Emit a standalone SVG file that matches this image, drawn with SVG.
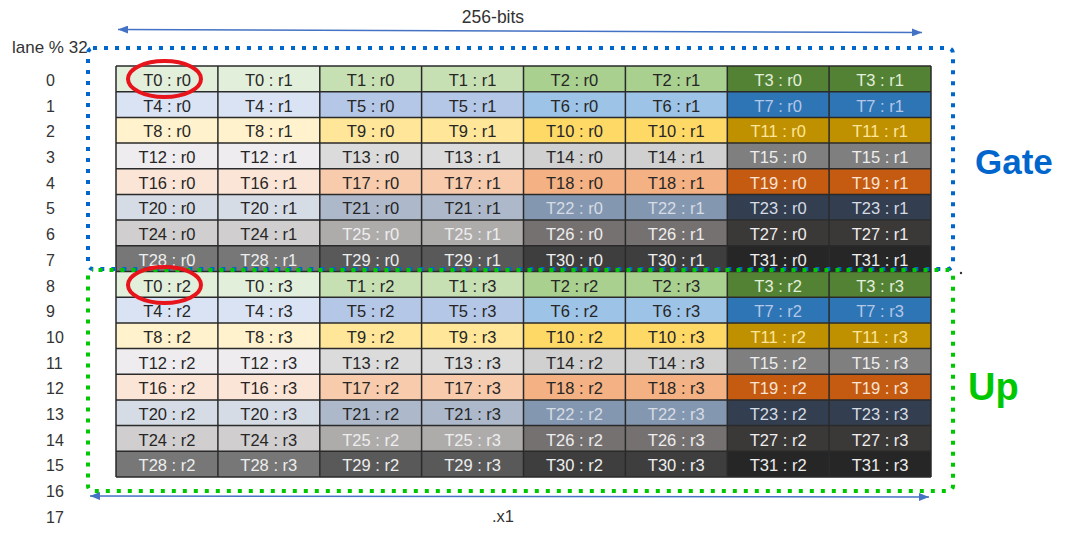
<svg xmlns="http://www.w3.org/2000/svg" width="1080" height="543" viewBox="0 0 1080 543">
<style>
.lbl{font-family:"Liberation Sans",Arial,sans-serif;font-size:16px;fill:#333}
.c{font-family:"Liberation Sans",Arial,sans-serif;font-size:16.5px;text-anchor:middle;fill:#262626}
.w{fill:#eeeeee}
.a0{fill:#e2efda}.a1{fill:#c6e0b4}.a2{fill:#a9d08e}.a3{fill:#548235}
.b0{fill:#dae3f3}.b1{fill:#b4c7e7}.b2{fill:#9dc3e6}.b3{fill:#2e75b6}
.c0{fill:#fff2cc}.c1{fill:#ffe699}.c2{fill:#ffd966}.c3{fill:#bf9000}
.d0{fill:#eeecee}.d1{fill:#dbdbdb}.d2{fill:#d0d0d0}.d3{fill:#7f7f7f}
.e0{fill:#fbe5d6}.e1{fill:#f8cbad}.e2{fill:#f4b183}.e3{fill:#c55a11}
.f0{fill:#d6dce5}.f1{fill:#adb9ca}.f2{fill:#8497b0}.f3{fill:#333f50}
.g0{fill:#d0cece}.g1{fill:#aeabab}.g2{fill:#767171}.g3{fill:#3b3838}
.h0{fill:#777777}.h1{fill:#595959}.h2{fill:#3e3e3e}.h3{fill:#262626}
.grid{fill:none;stroke:#2a2a2a;stroke-width:1.5}
.arr{fill:none;stroke:#4472c4;stroke-width:1.5}
.dotb{fill:none;stroke:#0066cc;stroke-width:4;stroke-dasharray:4 7}
.dotg{fill:none;stroke:#00c800;stroke-width:4;stroke-dasharray:4 7}
.ring{fill:none;stroke:#e8141c;stroke-width:4}
</style>
<defs>
<marker id="ah" markerUnits="userSpaceOnUse" markerWidth="10" markerHeight="8" refX="10" refY="4" orient="auto-start-reverse"><path d="M0,0 L10,4 L0,8 z" fill="#4472c4"/></marker>
</defs>
<rect width="1080" height="543" fill="#ffffff"/>

<g id="labels">
<text class="lbl" x="12" y="53" style="font-size:17px">lane % 32</text>
<text class="lbl" x="493" y="23" text-anchor="middle" style="font-size:17.5px">256-bits</text>
<text class="lbl" x="503" y="522" text-anchor="middle" style="font-size:16.5px">.x1</text>
<text class="lbl" x="46" y="86">0</text>
<text class="lbl" x="46" y="111.7">1</text>
<text class="lbl" x="46" y="137.4">2</text>
<text class="lbl" x="46" y="163.1">3</text>
<text class="lbl" x="46" y="188.8">4</text>
<text class="lbl" x="46" y="214.4">5</text>
<text class="lbl" x="46" y="240.1">6</text>
<text class="lbl" x="46" y="265.8">7</text>
<text class="lbl" x="46" y="291.5">8</text>
<text class="lbl" x="46" y="317.2">9</text>
<text class="lbl" x="46" y="342.9">10</text>
<text class="lbl" x="46" y="368.6">11</text>
<text class="lbl" x="46" y="394.3">12</text>
<text class="lbl" x="46" y="419.9">13</text>
<text class="lbl" x="46" y="445.6">14</text>
<text class="lbl" x="46" y="471.3">15</text>
<text class="lbl" x="46" y="497">16</text>
<text class="lbl" x="46" y="522.7">17</text>
</g>

<g id="row0">
<rect class="a0" x="116" y="66" width="101.9" height="25.7"/><rect class="a0" x="217.9" y="66" width="101.9" height="25.7"/>
<rect class="a1" x="319.8" y="66" width="101.9" height="25.7"/><rect class="a1" x="421.6" y="66" width="101.9" height="25.7"/>
<rect class="a2" x="523.5" y="66" width="101.9" height="25.7"/><rect class="a2" x="625.4" y="66" width="101.9" height="25.7"/>
<rect class="a3" x="727.3" y="66" width="101.9" height="25.7"/><rect class="a3" x="829.1" y="66" width="101.9" height="25.7"/>
<text class="c" x="167" y="86">T0 : r0</text><text class="c" x="268.8" y="86">T0 : r1</text><text class="c" x="370.7" y="86">T1 : r0</text><text class="c" x="472.6" y="86">T1 : r1</text><text class="c" x="574.4" y="86">T2 : r0</text><text class="c" x="676.3" y="86">T2 : r1</text><text class="c a0" x="778.2" y="86">T3 : r0</text><text class="c a0" x="880.1" y="86">T3 : r1</text>
</g>
<g id="row1">
<rect class="b0" x="116" y="91.7" width="101.9" height="25.7"/><rect class="b0" x="217.9" y="91.7" width="101.9" height="25.7"/>
<rect class="b1" x="319.8" y="91.7" width="101.9" height="25.7"/><rect class="b1" x="421.6" y="91.7" width="101.9" height="25.7"/>
<rect class="b2" x="523.5" y="91.7" width="101.9" height="25.7"/><rect class="b2" x="625.4" y="91.7" width="101.9" height="25.7"/>
<rect class="b3" x="727.3" y="91.7" width="101.9" height="25.7"/><rect class="b3" x="829.1" y="91.7" width="101.9" height="25.7"/>
<text class="c" x="167" y="111.7">T4 : r0</text><text class="c" x="268.8" y="111.7">T4 : r1</text><text class="c" x="370.7" y="111.7">T5 : r0</text><text class="c" x="472.6" y="111.7">T5 : r1</text><text class="c" x="574.4" y="111.7">T6 : r0</text><text class="c" x="676.3" y="111.7">T6 : r1</text><text class="c b1" x="778.2" y="111.7">T7 : r0</text><text class="c b1" x="880.1" y="111.7">T7 : r1</text>
</g>
<g id="row2">
<rect class="c0" x="116" y="117.4" width="101.9" height="25.7"/><rect class="c0" x="217.9" y="117.4" width="101.9" height="25.7"/>
<rect class="c1" x="319.8" y="117.4" width="101.9" height="25.7"/><rect class="c1" x="421.6" y="117.4" width="101.9" height="25.7"/>
<rect class="c2" x="523.5" y="117.4" width="101.9" height="25.7"/><rect class="c2" x="625.4" y="117.4" width="101.9" height="25.7"/>
<rect class="c3" x="727.3" y="117.4" width="101.9" height="25.7"/><rect class="c3" x="829.1" y="117.4" width="101.9" height="25.7"/>
<text class="c" x="167" y="137.4">T8 : r0</text><text class="c" x="268.8" y="137.4">T8 : r1</text><text class="c" x="370.7" y="137.4">T9 : r0</text><text class="c" x="472.6" y="137.4">T9 : r1</text><text class="c" x="574.4" y="137.4">T10 : r0</text><text class="c" x="676.3" y="137.4">T10 : r1</text><text class="c c1" x="778.2" y="137.4">T11 : r0</text><text class="c c1" x="880.1" y="137.4">T11 : r1</text>
</g>
<g id="row3">
<rect class="d0" x="116" y="143.1" width="101.9" height="25.7"/><rect class="d0" x="217.9" y="143.1" width="101.9" height="25.7"/>
<rect class="d1" x="319.8" y="143.1" width="101.9" height="25.7"/><rect class="d1" x="421.6" y="143.1" width="101.9" height="25.7"/>
<rect class="d2" x="523.5" y="143.1" width="101.9" height="25.7"/><rect class="d2" x="625.4" y="143.1" width="101.9" height="25.7"/>
<rect class="d3" x="727.3" y="143.1" width="101.9" height="25.7"/><rect class="d3" x="829.1" y="143.1" width="101.9" height="25.7"/>
<text class="c" x="167" y="163.1">T12 : r0</text><text class="c" x="268.8" y="163.1">T12 : r1</text><text class="c" x="370.7" y="163.1">T13 : r0</text><text class="c" x="472.6" y="163.1">T13 : r1</text><text class="c" x="574.4" y="163.1">T14 : r0</text><text class="c" x="676.3" y="163.1">T14 : r1</text><text class="c w" x="778.2" y="163.1">T15 : r0</text><text class="c w" x="880.1" y="163.1">T15 : r1</text>
</g>
<g id="row4">
<rect class="e0" x="116" y="168.8" width="101.9" height="25.7"/><rect class="e0" x="217.9" y="168.8" width="101.9" height="25.7"/>
<rect class="e1" x="319.8" y="168.8" width="101.9" height="25.7"/><rect class="e1" x="421.6" y="168.8" width="101.9" height="25.7"/>
<rect class="e2" x="523.5" y="168.8" width="101.9" height="25.7"/><rect class="e2" x="625.4" y="168.8" width="101.9" height="25.7"/>
<rect class="e3" x="727.3" y="168.8" width="101.9" height="25.7"/><rect class="e3" x="829.1" y="168.8" width="101.9" height="25.7"/>
<text class="c" x="167" y="188.8">T16 : r0</text><text class="c" x="268.8" y="188.8">T16 : r1</text><text class="c" x="370.7" y="188.8">T17 : r0</text><text class="c" x="472.6" y="188.8">T17 : r1</text><text class="c" x="574.4" y="188.8">T18 : r0</text><text class="c" x="676.3" y="188.8">T18 : r1</text><text class="c e0" x="778.2" y="188.8">T19 : r0</text><text class="c e0" x="880.1" y="188.8">T19 : r1</text>
</g>
<g id="row5">
<rect class="f0" x="116" y="194.4" width="101.9" height="25.7"/><rect class="f0" x="217.9" y="194.4" width="101.9" height="25.7"/>
<rect class="f1" x="319.8" y="194.4" width="101.9" height="25.7"/><rect class="f1" x="421.6" y="194.4" width="101.9" height="25.7"/>
<rect class="f2" x="523.5" y="194.4" width="101.9" height="25.7"/><rect class="f2" x="625.4" y="194.4" width="101.9" height="25.7"/>
<rect class="f3" x="727.3" y="194.4" width="101.9" height="25.7"/><rect class="f3" x="829.1" y="194.4" width="101.9" height="25.7"/>
<text class="c" x="167" y="214.4">T20 : r0</text><text class="c" x="268.8" y="214.4">T20 : r1</text><text class="c" x="370.7" y="214.4">T21 : r0</text><text class="c" x="472.6" y="214.4">T21 : r1</text><text class="c f0" x="574.4" y="214.4">T22 : r0</text><text class="c f0" x="676.3" y="214.4">T22 : r1</text><text class="c f0" x="778.2" y="214.4">T23 : r0</text><text class="c f0" x="880.1" y="214.4">T23 : r1</text>
</g>
<g id="row6">
<rect class="g0" x="116" y="220.1" width="101.9" height="25.7"/><rect class="g0" x="217.9" y="220.1" width="101.9" height="25.7"/>
<rect class="g1" x="319.8" y="220.1" width="101.9" height="25.7"/><rect class="g1" x="421.6" y="220.1" width="101.9" height="25.7"/>
<rect class="g2" x="523.5" y="220.1" width="101.9" height="25.7"/><rect class="g2" x="625.4" y="220.1" width="101.9" height="25.7"/>
<rect class="g3" x="727.3" y="220.1" width="101.9" height="25.7"/><rect class="g3" x="829.1" y="220.1" width="101.9" height="25.7"/>
<text class="c" x="167" y="240.1">T24 : r0</text><text class="c" x="268.8" y="240.1">T24 : r1</text><text class="c w" x="370.7" y="240.1">T25 : r0</text><text class="c w" x="472.6" y="240.1">T25 : r1</text><text class="c w" x="574.4" y="240.1">T26 : r0</text><text class="c w" x="676.3" y="240.1">T26 : r1</text><text class="c w" x="778.2" y="240.1">T27 : r0</text><text class="c w" x="880.1" y="240.1">T27 : r1</text>
</g>
<g id="row7">
<rect class="h0" x="116" y="245.8" width="101.9" height="25.7"/><rect class="h0" x="217.9" y="245.8" width="101.9" height="25.7"/>
<rect class="h1" x="319.8" y="245.8" width="101.9" height="25.7"/><rect class="h1" x="421.6" y="245.8" width="101.9" height="25.7"/>
<rect class="h2" x="523.5" y="245.8" width="101.9" height="25.7"/><rect class="h2" x="625.4" y="245.8" width="101.9" height="25.7"/>
<rect class="h3" x="727.3" y="245.8" width="101.9" height="25.7"/><rect class="h3" x="829.1" y="245.8" width="101.9" height="25.7"/>
<text class="c w" x="167" y="265.8">T28 : r0</text><text class="c w" x="268.8" y="265.8">T28 : r1</text><text class="c w" x="370.7" y="265.8">T29 : r0</text><text class="c w" x="472.6" y="265.8">T29 : r1</text><text class="c w" x="574.4" y="265.8">T30 : r0</text><text class="c w" x="676.3" y="265.8">T30 : r1</text><text class="c w" x="778.2" y="265.8">T31 : r0</text><text class="c w" x="880.1" y="265.8">T31 : r1</text>
</g>

<g id="row8">
<rect class="a0" x="116" y="271.5" width="101.9" height="25.7"/><rect class="a0" x="217.9" y="271.5" width="101.9" height="25.7"/>
<rect class="a1" x="319.8" y="271.5" width="101.9" height="25.7"/><rect class="a1" x="421.6" y="271.5" width="101.9" height="25.7"/>
<rect class="a2" x="523.5" y="271.5" width="101.9" height="25.7"/><rect class="a2" x="625.4" y="271.5" width="101.9" height="25.7"/>
<rect class="a3" x="727.3" y="271.5" width="101.9" height="25.7"/><rect class="a3" x="829.1" y="271.5" width="101.9" height="25.7"/>
<text class="c" x="167" y="291.5">T0 : r2</text><text class="c" x="268.8" y="291.5">T0 : r3</text><text class="c" x="370.7" y="291.5">T1 : r2</text><text class="c" x="472.6" y="291.5">T1 : r3</text><text class="c" x="574.4" y="291.5">T2 : r2</text><text class="c" x="676.3" y="291.5">T2 : r3</text><text class="c a0" x="778.2" y="291.5">T3 : r2</text><text class="c a0" x="880.1" y="291.5">T3 : r3</text>
</g>
<g id="row9">
<rect class="b0" x="116" y="297.2" width="101.9" height="25.7"/><rect class="b0" x="217.9" y="297.2" width="101.9" height="25.7"/>
<rect class="b1" x="319.8" y="297.2" width="101.9" height="25.7"/><rect class="b1" x="421.6" y="297.2" width="101.9" height="25.7"/>
<rect class="b2" x="523.5" y="297.2" width="101.9" height="25.7"/><rect class="b2" x="625.4" y="297.2" width="101.9" height="25.7"/>
<rect class="b3" x="727.3" y="297.2" width="101.9" height="25.7"/><rect class="b3" x="829.1" y="297.2" width="101.9" height="25.7"/>
<text class="c" x="167" y="317.2">T4 : r2</text><text class="c" x="268.8" y="317.2">T4 : r3</text><text class="c" x="370.7" y="317.2">T5 : r2</text><text class="c" x="472.6" y="317.2">T5 : r3</text><text class="c" x="574.4" y="317.2">T6 : r2</text><text class="c" x="676.3" y="317.2">T6 : r3</text><text class="c b1" x="778.2" y="317.2">T7 : r2</text><text class="c b1" x="880.1" y="317.2">T7 : r3</text>
</g>
<g id="row10">
<rect class="c0" x="116" y="322.9" width="101.9" height="25.7"/><rect class="c0" x="217.9" y="322.9" width="101.9" height="25.7"/>
<rect class="c1" x="319.8" y="322.9" width="101.9" height="25.7"/><rect class="c1" x="421.6" y="322.9" width="101.9" height="25.7"/>
<rect class="c2" x="523.5" y="322.9" width="101.9" height="25.7"/><rect class="c2" x="625.4" y="322.9" width="101.9" height="25.7"/>
<rect class="c3" x="727.3" y="322.9" width="101.9" height="25.7"/><rect class="c3" x="829.1" y="322.9" width="101.9" height="25.7"/>
<text class="c" x="167" y="342.9">T8 : r2</text><text class="c" x="268.8" y="342.9">T8 : r3</text><text class="c" x="370.7" y="342.9">T9 : r2</text><text class="c" x="472.6" y="342.9">T9 : r3</text><text class="c" x="574.4" y="342.9">T10 : r2</text><text class="c" x="676.3" y="342.9">T10 : r3</text><text class="c c1" x="778.2" y="342.9">T11 : r2</text><text class="c c1" x="880.1" y="342.9">T11 : r3</text>
</g>
<g id="row11">
<rect class="d0" x="116" y="348.6" width="101.9" height="25.7"/><rect class="d0" x="217.9" y="348.6" width="101.9" height="25.7"/>
<rect class="d1" x="319.8" y="348.6" width="101.9" height="25.7"/><rect class="d1" x="421.6" y="348.6" width="101.9" height="25.7"/>
<rect class="d2" x="523.5" y="348.6" width="101.9" height="25.7"/><rect class="d2" x="625.4" y="348.6" width="101.9" height="25.7"/>
<rect class="d3" x="727.3" y="348.6" width="101.9" height="25.7"/><rect class="d3" x="829.1" y="348.6" width="101.9" height="25.7"/>
<text class="c" x="167" y="368.6">T12 : r2</text><text class="c" x="268.8" y="368.6">T12 : r3</text><text class="c" x="370.7" y="368.6">T13 : r2</text><text class="c" x="472.6" y="368.6">T13 : r3</text><text class="c" x="574.4" y="368.6">T14 : r2</text><text class="c" x="676.3" y="368.6">T14 : r3</text><text class="c w" x="778.2" y="368.6">T15 : r2</text><text class="c w" x="880.1" y="368.6">T15 : r3</text>
</g>
<g id="row12">
<rect class="e0" x="116" y="374.3" width="101.9" height="25.7"/><rect class="e0" x="217.9" y="374.3" width="101.9" height="25.7"/>
<rect class="e1" x="319.8" y="374.3" width="101.9" height="25.7"/><rect class="e1" x="421.6" y="374.3" width="101.9" height="25.7"/>
<rect class="e2" x="523.5" y="374.3" width="101.9" height="25.7"/><rect class="e2" x="625.4" y="374.3" width="101.9" height="25.7"/>
<rect class="e3" x="727.3" y="374.3" width="101.9" height="25.7"/><rect class="e3" x="829.1" y="374.3" width="101.9" height="25.7"/>
<text class="c" x="167" y="394.3">T16 : r2</text><text class="c" x="268.8" y="394.3">T16 : r3</text><text class="c" x="370.7" y="394.3">T17 : r2</text><text class="c" x="472.6" y="394.3">T17 : r3</text><text class="c" x="574.4" y="394.3">T18 : r2</text><text class="c" x="676.3" y="394.3">T18 : r3</text><text class="c e0" x="778.2" y="394.3">T19 : r2</text><text class="c e0" x="880.1" y="394.3">T19 : r3</text>
</g>
<g id="row13">
<rect class="f0" x="116" y="399.9" width="101.9" height="25.7"/><rect class="f0" x="217.9" y="399.9" width="101.9" height="25.7"/>
<rect class="f1" x="319.8" y="399.9" width="101.9" height="25.7"/><rect class="f1" x="421.6" y="399.9" width="101.9" height="25.7"/>
<rect class="f2" x="523.5" y="399.9" width="101.9" height="25.7"/><rect class="f2" x="625.4" y="399.9" width="101.9" height="25.7"/>
<rect class="f3" x="727.3" y="399.9" width="101.9" height="25.7"/><rect class="f3" x="829.1" y="399.9" width="101.9" height="25.7"/>
<text class="c" x="167" y="419.9">T20 : r2</text><text class="c" x="268.8" y="419.9">T20 : r3</text><text class="c" x="370.7" y="419.9">T21 : r2</text><text class="c" x="472.6" y="419.9">T21 : r3</text><text class="c f0" x="574.4" y="419.9">T22 : r2</text><text class="c f0" x="676.3" y="419.9">T22 : r3</text><text class="c f0" x="778.2" y="419.9">T23 : r2</text><text class="c f0" x="880.1" y="419.9">T23 : r3</text>
</g>
<g id="row14">
<rect class="g0" x="116" y="425.6" width="101.9" height="25.7"/><rect class="g0" x="217.9" y="425.6" width="101.9" height="25.7"/>
<rect class="g1" x="319.8" y="425.6" width="101.9" height="25.7"/><rect class="g1" x="421.6" y="425.6" width="101.9" height="25.7"/>
<rect class="g2" x="523.5" y="425.6" width="101.9" height="25.7"/><rect class="g2" x="625.4" y="425.6" width="101.9" height="25.7"/>
<rect class="g3" x="727.3" y="425.6" width="101.9" height="25.7"/><rect class="g3" x="829.1" y="425.6" width="101.9" height="25.7"/>
<text class="c" x="167" y="445.6">T24 : r2</text><text class="c" x="268.8" y="445.6">T24 : r3</text><text class="c w" x="370.7" y="445.6">T25 : r2</text><text class="c w" x="472.6" y="445.6">T25 : r3</text><text class="c w" x="574.4" y="445.6">T26 : r2</text><text class="c w" x="676.3" y="445.6">T26 : r3</text><text class="c w" x="778.2" y="445.6">T27 : r2</text><text class="c w" x="880.1" y="445.6">T27 : r3</text>
</g>
<g id="row15">
<rect class="h0" x="116" y="451.3" width="101.9" height="25.7"/><rect class="h0" x="217.9" y="451.3" width="101.9" height="25.7"/>
<rect class="h1" x="319.8" y="451.3" width="101.9" height="25.7"/><rect class="h1" x="421.6" y="451.3" width="101.9" height="25.7"/>
<rect class="h2" x="523.5" y="451.3" width="101.9" height="25.7"/><rect class="h2" x="625.4" y="451.3" width="101.9" height="25.7"/>
<rect class="h3" x="727.3" y="451.3" width="101.9" height="25.7"/><rect class="h3" x="829.1" y="451.3" width="101.9" height="25.7"/>
<text class="c w" x="167" y="471.3">T28 : r2</text><text class="c w" x="268.8" y="471.3">T28 : r3</text><text class="c w" x="370.7" y="471.3">T29 : r2</text><text class="c w" x="472.6" y="471.3">T29 : r3</text><text class="c w" x="574.4" y="471.3">T30 : r2</text><text class="c w" x="676.3" y="471.3">T30 : r3</text><text class="c w" x="778.2" y="471.3">T31 : r2</text><text class="c w" x="880.1" y="471.3">T31 : r3</text>
</g>

<g id="grid">
<path class="grid" d="M116,66V477M217.9,66V477M319.8,66V477M421.6,66V477M523.5,66V477M625.4,66V477M727.3,66V477M829.1,66V477M931,66V477
M116,66H931M116,91.7H931M116,117.4H931M116,143.1H931M116,168.8H931M116,194.4H931M116,220.1H931M116,245.8H931M116,271.5H931M116,297.2H931M116,322.9H931M116,348.6H931M116,374.3H931M116,399.9H931M116,425.6H931M116,451.3H931M116,477H931"/>
</g>

<g id="connectors">
<path class="arr" d="M118,29.5 L922,32.5" marker-start="url(#ah)" marker-end="url(#ah)"/>
<path class="arr" d="M90,496 L929,497" marker-start="url(#ah)" marker-end="url(#ah)"/>
</g>

<g id="gate">
<rect class="dotb" x="88" y="48" width="865" height="221" rx="5"/>
<text x="975" y="174" font-family="Liberation Sans, Arial, sans-serif" font-weight="bold" font-size="35" fill="#0066cc">Gate</text>
</g>
<g id="up">
<rect class="dotg" x="88" y="270" width="865" height="221" rx="5" stroke-dashoffset="5.5"/>
<text x="968" y="400" font-family="Liberation Sans, Arial, sans-serif" font-weight="bold" font-size="38" fill="#00c800">Up</text>
</g>

<g id="highlights">
<ellipse class="ring" cx="164.5" cy="79" rx="36.5" ry="18"/>
<ellipse class="ring" cx="164.5" cy="285" rx="36.5" ry="18"/>
</g>
<circle cx="961" cy="273" r="1.2" fill="#333"/>
</svg>
